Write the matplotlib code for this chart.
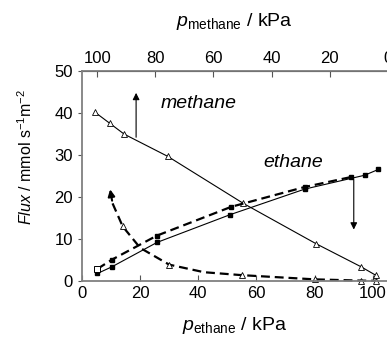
import matplotlib
matplotlib.use('Agg')
from matplotlib import pyplot as plt

plt.rcParams['font.family'] = ['Liberation Sans', 'DejaVu Sans']
plt.rcParams['mathtext.fontset'] = 'custom'
plt.rcParams['mathtext.rm'] = 'Liberation Sans'
plt.rcParams['mathtext.it'] = 'Liberation Sans:italic'

# methane flux, single gas (open triangles, solid line)
ch4_x = [4.5, 9.5, 14.5, 29.5, 55.5, 80.5, 96, 101]
ch4_y = [40.2, 37.6, 35.0, 29.7, 18.5, 8.9, 3.4, 1.4]

# ethane flux, single gas (filled squares, solid line)
c2_x = [5.3, 10.3, 25.8, 50.9, 76.6, 97.2, 102]
c2_y = [1.8, 3.4, 9.2, 15.8, 21.9, 25.2, 26.6]

# ethane flux in mixture (dashed)
c2m_x = [5.3, 10.3, 25.7, 51.4, 76.6, 92.7]
c2m_y = [2.9, 5.1, 10.8, 17.7, 22.4, 24.8]

# methane flux in mixture (dashed, triangles)
ch4m_x = [9.5, 10.5, 14, 20, 30, 42, 55, 80, 96, 101]
ch4m_y = [22.5, 18.5, 13.0, 7.9, 3.9, 2.1, 1.4, 0.4, 0.1, 0.05]
ch4m_mk = [2, 4, 6, 7, 8, 9]

total_p = 105.2

fig = plt.figure(figsize=(3.87, 3.39), dpi=100)
ax = fig.add_axes([0.212, 0.171, 0.79, 0.619])

ax.plot(ch4_x, ch4_y, color='black', lw=0.8, marker='^', ms=4.5,
        mfc='white', mec='black', mew=0.6, clip_on=False)
ax.plot(c2_x, c2_y, color='black', lw=0.8, marker='s', ms=3, mfc='black', mec='black')
ax.plot(c2m_x, c2m_y, color='black', lw=1.6, dashes=(4, 2.2), marker='s', ms=3,
        mfc='black', mec='black')
ax.plot(c2m_x[:1], c2m_y[:1], ls='none', marker='s', ms=4, mfc='white', mec='black', mew=0.7)
ax.plot(ch4m_x[1:], ch4m_y[1:], color='black', lw=1.6, dashes=(4, 2.2), clip_on=False)
ax.plot([ch4m_x[i] for i in ch4m_mk], [ch4m_y[i] for i in ch4m_mk], ls='none', marker='^',
        ms=4, mfc='white', mec='black', mew=0.6, clip_on=False)
ax.annotate('', xy=(ch4m_x[0], ch4m_y[0]), xytext=(ch4m_x[1], ch4m_y[1]),
            arrowprops=dict(arrowstyle='-|>', color='black', lw=1.5, mutation_scale=10))

# arrows
ax.annotate('', xy=(18.6, 45.5), xytext=(18.6, 33.6),
            arrowprops=dict(arrowstyle='-|>', color='black', lw=0.8, mutation_scale=10))
ax.annotate('', xy=(93.5, 11.6), xytext=(93.5, 24.8),
            arrowprops=dict(arrowstyle='-|>', color='black', lw=0.8, mutation_scale=10))

ax.text(40, 42.4, 'methane', fontsize=14, style='italic', ha='center', va='center')
ax.text(72.5, 28.3, 'ethane', fontsize=14, style='italic', ha='center', va='center')

ax.set_xlim(0, total_p)
ax.set_ylim(0, 50)
ax.set_xticks([0, 20, 40, 60, 80, 100])
ax.set_yticks([0, 10, 20, 30, 40, 50])
ax.tick_params(direction='in', length=4, labelsize=12, color='#555555')
ax.tick_params(axis='y', direction='out', length=3)
for s in ['left', 'bottom', 'top']:
    ax.spines[s].set_color('#808080')
    ax.spines[s].set_linewidth(1.3)
ax.spines['right'].set_visible(False)

ax.set_xlabel(r'$\it{p}_{\mathrm{ethane}}$ / kPa', fontsize=14, labelpad=10)
ax.set_ylabel(r'$\it{Flux}$ / mmol s$^{-1}$m$^{-2}$', fontsize=11.5)
ax.yaxis.set_label_coords(-0.155, 0.59)

top = ax.secondary_xaxis('top', functions=(lambda x: total_p - x, lambda x: total_p - x))
top.set_xticks([100, 80, 60, 40, 20, 0])
top.tick_params(direction='in', length=4, labelsize=12, color='#555555')
top.set_xlabel(r'$\it{p}_{\mathrm{methane}}$ / kPa', fontsize=14, labelpad=18)

fig.savefig('out.png', dpi=100)
